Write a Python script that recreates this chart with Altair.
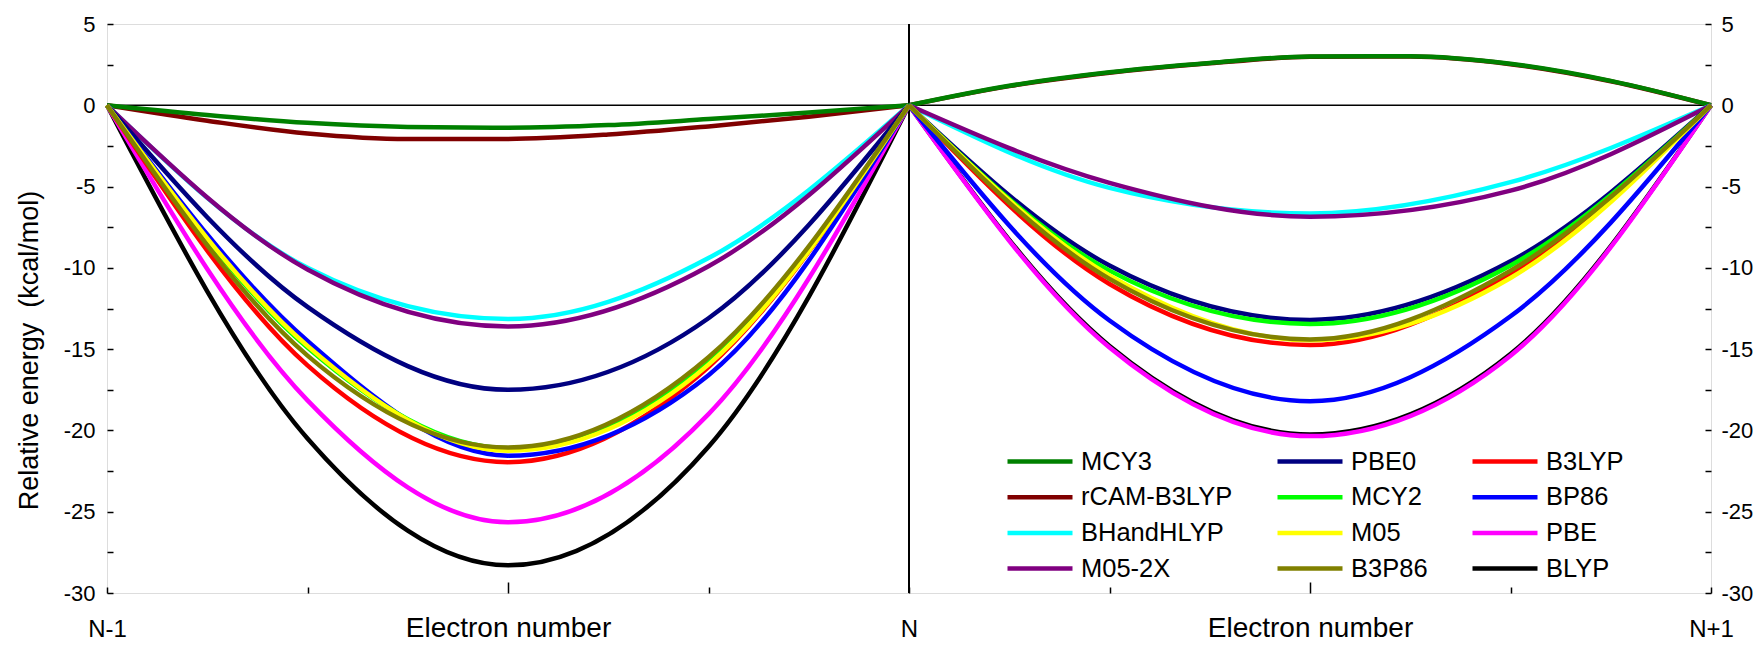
import altair as alt
import pandas as pd

# ---------------- data ----------------
# legend order (filled column by column, 3 columns x 4 rows)
functionals = ["MCY3", "rCAM-B3LYP", "BHandHLYP", "M05-2X",
               "PBE0", "MCY2", "M05", "B3P86",
               "B3LYP", "BP86", "PBE", "BLYP"]
colors = ["#008000", "#800000", "#00FFFF", "#800080",
          "#000080", "#00FF00", "#FFFF00", "#808000",
          "#FF0000", "#0000FF", "#FF00FF", "#000000"]
# order in which the curves are drawn (last one on top)
draw_order = ["rCAM-B3LYP", "MCY3", "BHandHLYP", "M05-2X", "PBE0", "BLYP",
              "PBE", "B3LYP", "BP86", "MCY2", "M05", "B3P86"]

# electron number relative to N
n_left = [-1.0, -0.75, -0.5, -0.25, 0.0]   # N-1 -> N
n_right = [0.0, 0.25, 0.5, 0.75, 1.0]      # N -> N+1
# finer reading for the two shallow curves
n_left_fine = [-1.0, -0.875, -0.75, -0.625, -0.5, -0.375, -0.25, -0.125, 0.0]
n_right_fine = [0.0, 0.125, 0.25, 0.375, 0.5, 0.625, 0.75, 0.875, 1.0]

# relative energies (kcal/mol)
e_left = {
    "MCY3":       [0, -0.60, -1.08, -1.33, -1.38, -1.22, -0.85, -0.45, 0],
    "rCAM-B3LYP": [0, -0.95, -1.74, -2.08, -2.07, -1.80, -1.30, -0.70, 0],
    "BHandHLYP":  [0, -10.0, -13.15, -9.4, 0],
    "M05-2X":     [0, -10.1, -13.6, -9.9, 0],
    "PBE0":       [0, -12.4, -17.5, -13.1, 0],
    "MCY2":       [0, -14.9, -21.1, -15.7, 0],
    "M05":        [0, -14.8, -21.25, -15.95, 0],
    "B3P86":      [0, -15.4, -21.05, -15.5, 0],
    "B3LYP":      [0, -16.0, -21.95, -16.1, 0],
    "BP86":       [0, -14.5, -21.55, -16.6, 0],
    "PBE":        [0, -18.15, -25.65, -19.0, 0],
    "BLYP":       [0, -20.5, -28.3, -21.0, 0],
}
e_right = {
    "MCY3":       [0, 1.20, 2.03, 2.60, 3.00, 3.02, 2.55, 1.50, 0],
    "rCAM-B3LYP": [0, 1.18, 2.00, 2.58, 2.98, 3.00, 2.53, 1.48, 0],
    "BHandHLYP":  [0, -5.08, -6.65, -4.73, 0],
    "M05-2X":     [0, -4.77, -6.85, -5.25, 0],
    "PBE0":       [0, -9.86, -13.2, -9.6, 0],
    "MCY2":       [0, -10.17, -13.45, -9.85, 0],
    "M05":        [0, -10.47, -14.45, -10.62, 0],
    "B3P86":      [0, -10.68, -14.4, -10.17, 0],
    "B3LYP":      [0, -10.99, -14.75, -10.4, 0],
    "BP86":       [0, -13.24, -18.2, -12.98, 0],
    "PBE":        [0, -14.9, -20.35, -15.4, 0],
    "BLYP":       [0, -14.8, -20.25, -15.3, 0],
}

y_ticks = [-30, -27.5, -25, -22.5, -20, -17.5, -15, -12.5, -10, -7.5, -5, -2.5, 0, 2.5, 5]
x_minor = [-1, -0.75, -0.25, 0, 0.25, 0.75, 1]
x_major = [-0.5, 0.5]

rows = []
for f in draw_order:
    nl = n_left_fine if len(e_left[f]) == len(n_left_fine) else n_left
    nr = n_right_fine if len(e_right[f]) == len(n_right_fine) else n_right
    for n, e in zip(nl, e_left[f]):
        rows.append({"functional": f, "half": "L", "n": n, "E": e})
    for n, e in zip(nr, e_right[f]):
        rows.append({"functional": f, "half": "R", "n": n, "E": e})
df = pd.DataFrame(rows)

# ---------------- chart ----------------
W, H = 1604, 569
FONT = "Liberation Sans"
xs = alt.Scale(domain=[-1, 1], nice=False, zero=False)
ys = alt.Scale(domain=[-30, 5], nice=False, zero=False)

ylab = "datum.value % 5 == 0 ? (datum.value < 0 ? '-' + abs(datum.value) : '' + datum.value) : ''"

lines = alt.Chart(df).mark_line(strokeWidth=4.5, interpolate="monotone").encode(
    x=alt.X("n:Q", scale=xs, axis=alt.Axis(
        orient="bottom", values=x_minor, tickSize={"expr": "-6"}, tickWidth=1.5,
        tickColor="black", domain=False, grid=False, labelFlush=False, labelOverlap=False,
        labelExpr="datum.value == -1 ? 'N-1' : datum.value == 0 ? 'N' : datum.value == 1 ? 'N+1' : ''",
        labelFont=FONT, labelFontSize=24, labelColor="black", labelPadding=30, title=None)),
    y=alt.Y("E:Q", scale=ys, axis=alt.Axis(
        orient="left", values=y_ticks, tickSize={"expr": "-6"}, tickWidth=1.5, tickColor="black",
        domain=False, grid=False, labelOverlap=False, labelExpr=ylab,
        labelFont=FONT, labelFontSize=22, labelColor="black", labelPadding=18,
        title="Relative energy\u00a0 (kcal/mol)", titleFont=FONT, titleFontSize=27,
        titleFontWeight="normal", titleColor="black", titleX=-78, titleY=326,
        titleBaseline="middle", titleAngle=-90)),
    color=alt.Color("functional:N", sort=functionals,
                    scale=alt.Scale(domain=functionals, range=colors),
                    legend=alt.Legend(orient="none", legendX=898, legendY=425, columns=3,
                                      title=None, symbolType="stroke", symbolSize=4225,
                                      symbolStrokeWidth=4.5, labelFont=FONT, labelFontSize=25.5,
                                      labelColor="black", columnPadding=42,
                                      clipHeight=25, rowPadding=9.7,
                                      labelOffset=6, padding=0, labelLimit=0)),
    detail="half:N",
)

vline = alt.Chart(pd.DataFrame({"n": [0.0]})).mark_rule(color="black", strokeWidth=2).encode(
    x=alt.X("n:Q", scale=xs, axis=alt.Axis(
        orient="bottom", values=x_major, tickSize={"expr": "-11"}, tickWidth=1.5,
        tickColor="black", domain=False, grid=False, labelFlush=False, labelOverlap=False,
        labelExpr="'Electron number'", labelFont=FONT, labelFontSize=28, labelLimit=500,
        labelColor="black", labelPadding=32, title=None)),
)

hline = alt.Chart(pd.DataFrame({"E": [0.0]})).mark_rule(color="black", strokeWidth=1.5).encode(
    y=alt.Y("E:Q", scale=ys, axis=alt.Axis(
        orient="right", values=y_ticks, tickSize={"expr": "-6"}, tickWidth=1.5,
        tickColor="black", domain=False, grid=False, labelOverlap=False, labelExpr=ylab,
        labelFont=FONT, labelFontSize=22, labelColor="black", labelPadding=16, title=None)),
)

chart = alt.layer(hline, vline, lines).resolve_scale(
    x="independent", y="independent"
).properties(
    width=W, height=H,
    autosize=alt.AutoSizeParams(type="none"),
    padding={"left": 99, "top": 16, "right": 43, "bottom": 44},
).configure_view(
    stroke="black", strokeWidth=2
).configure(background="white")

chart.save("out.html", embed_options={"renderer": "svg", "actions": False})
